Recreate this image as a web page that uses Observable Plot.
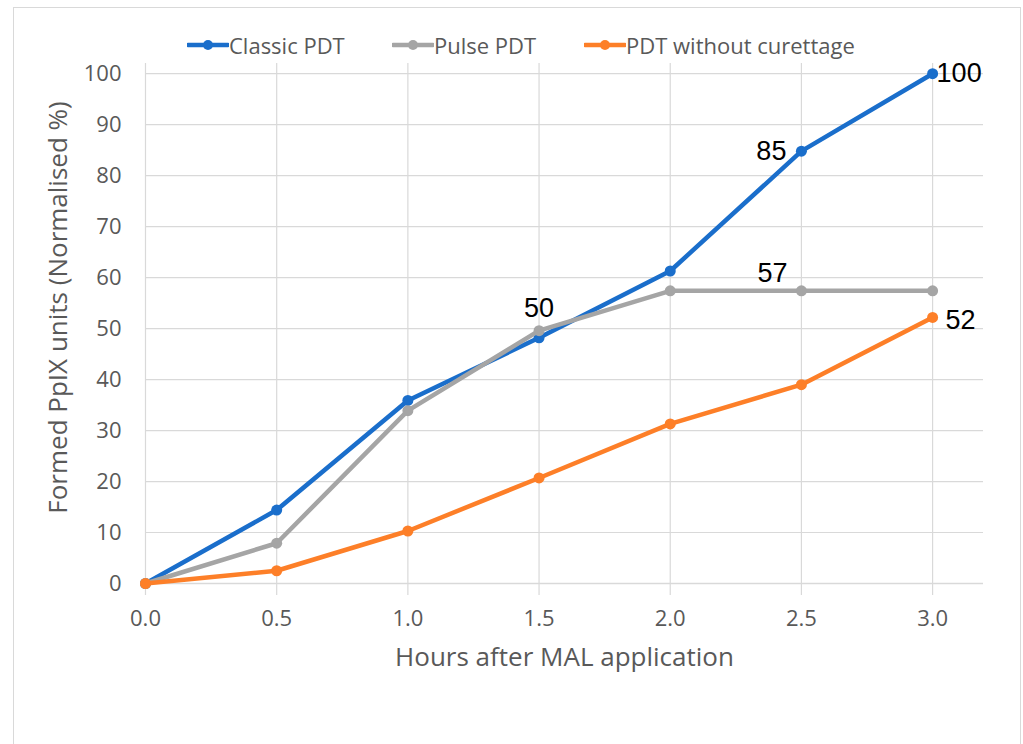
<!DOCTYPE html>
<html>
<head>
<meta charset="utf-8">
<script src="https://cdn.jsdelivr.net/npm/d3@7"></script>
<script src="https://cdn.jsdelivr.net/npm/@observablehq/plot@0.6"></script>
<style>
  html, body { margin: 0; padding: 0; background: #fff; }
  #wrap { position: relative; width: 1023px; height: 744px; overflow: hidden; font-family: "Open Sans", sans-serif; }
  #border { position: absolute; left: 13px; top: 7px; width: 1006px; height: 800px; border: 1px solid #d9d9d9; pointer-events: none; }
  #legend { position: relative; height: 30px; z-index: 2; }
  .item { position: absolute; top: 30px; height: 30px; display: flex; align-items: center; color: #595959; font-size: 22px; white-space: nowrap; }
  .item svg { display: block; }
  #chart svg { display: block; }
</style>
</head>
<body>
<div id="wrap">
  <div id="border"></div>
  <div id="legend"></div>
  <div id="chart"></div>
</div>
<script>
const hours = [0, 0.5, 1.0, 1.5, 2.0, 2.5, 3.0];
const classicPDT = [0, 14.4, 35.9, 48.2, 61.3, 84.8, 100];
const pulsePDT = [0, 7.9, 33.9, 49.6, 57.4, 57.4, 57.4];
const noCurettagePDT = [0, 2.5, 10.3, 20.7, 31.3, 39.0, 52.2];
const seriesNames = ["Classic PDT", "Pulse PDT", "PDT without curettage"];
const seriesColors = ["#1a6ecb", "#a5a5a5", "#fd7f28"];
const xTicks = [0, 0.5, 1.0, 1.5, 2.0, 2.5, 3.0];
const yTicks = [0, 10, 20, 30, 40, 50, 60, 70, 80, 90, 100];
const xTitle = "Hours after MAL application";
const yTitle = "Formed PpIX units (Normalised %)";
// data labels: series index and hour of labelled points
const labelSeries = [0, 0, 1, 1, 2];
const labelHours = [2.5, 3.0, 1.5, 2.5, 3.0];

const seriesValues = [classicPDT, pulsePDT, noCurettagePDT];
const data = seriesNames.flatMap((s, j) => hours.map((h, i) => ({series: s, hour: h, value: seriesValues[j][i]})));
const labels = labelSeries.map((j, k) => {
  const i = hours.indexOf(labelHours[k]);
  return {series: seriesNames[j], hour: labelHours[k], value: seriesValues[j][i], text: String(Math.round(seriesValues[j][i]))};
});

// legend
const legend = document.getElementById("legend");
const legendLeft = [187, 392, 584];
seriesNames.forEach((s, j) => {
  const d = document.createElement("div");
  d.className = "item";
  d.style.left = legendLeft[j] + "px";
  d.innerHTML = `<svg width="42" height="12"><line x1="1" y1="6" x2="41" y2="6" stroke="${seriesColors[j]}" stroke-width="4.5" stroke-linecap="round"/><circle cx="21" cy="6" r="5" fill="${seriesColors[j]}"/></svg><span>${s}</span>`;
  legend.appendChild(d);
});

const lineMarks = seriesNames.flatMap((s, j) => [
  Plot.line(data.filter(d => d.series === s), {x: "hour", y: "value", stroke: seriesColors[j], strokeWidth: 4.5}),
  Plot.dot(data.filter(d => d.series === s), {x: "hour", y: "value", fill: seriesColors[j], r: 5.5})
]);

const labelStyle = {x: "hour", y: "value", text: "text", fill: "#000", fontSize: 27, fontFamily: "Liberation Sans, Arial, sans-serif"};
const lbl = (k) => labels.filter((d, i) => i === k);

const chart = Plot.plot({
  width: 1023,
  height: 714,
  marginLeft: 145,
  marginRight: 40,
  marginTop: 33,
  marginBottom: 161,
  x: {domain: [0, 3.194]},
  y: {domain: [0, 102]},
  style: {fontFamily: "Open Sans, sans-serif", fontSize: "22px", color: "#595959", background: "transparent"},
  marks: [
    Plot.ruleY(yTicks.filter(d => d > 0), {stroke: "#d9d9d9", strokeWidth: 1.2}),
    Plot.ruleX(xTicks, {stroke: "#d9d9d9", strokeWidth: 1.2, insetBottom: -12}),
    Plot.ruleY([0], {stroke: "#d9d9d9", strokeWidth: 1.4}),
    Plot.axisX({ticks: xTicks, tickFormat: d3.format(".1f"), tickSize: 0, tickPadding: 27, label: null, fill: "#595959"}),
    Plot.axisY({ticks: yTicks, tickSize: 0, tickPadding: 24, label: null, fill: "#595959"}),
    Plot.text([xTitle], {frameAnchor: "bottom", textAnchor: "middle", dy: 82, fontSize: 26, fill: "#595959"}),
    Plot.text([yTitle], {frameAnchor: "left", textAnchor: "middle", rotate: -90, dx: -87, dy: -16, fontSize: 26, fill: "#595959"}),
    ...lineMarks,
    Plot.text(lbl(0), {...labelStyle, textAnchor: "end", dx: -15, dy: 0}),
    Plot.text(lbl(1), {...labelStyle, textAnchor: "start", dx: 4, dy: 0}),
    Plot.text(lbl(2), {...labelStyle, textAnchor: "middle", dx: 0, dy: -22}),
    Plot.text(lbl(3), {...labelStyle, textAnchor: "middle", dx: -29, dy: -18}),
    Plot.text(lbl(4), {...labelStyle, textAnchor: "start", dx: 13, dy: 3})
  ]
});
document.getElementById("chart").appendChild(chart);
</script>
</body>
</html>
